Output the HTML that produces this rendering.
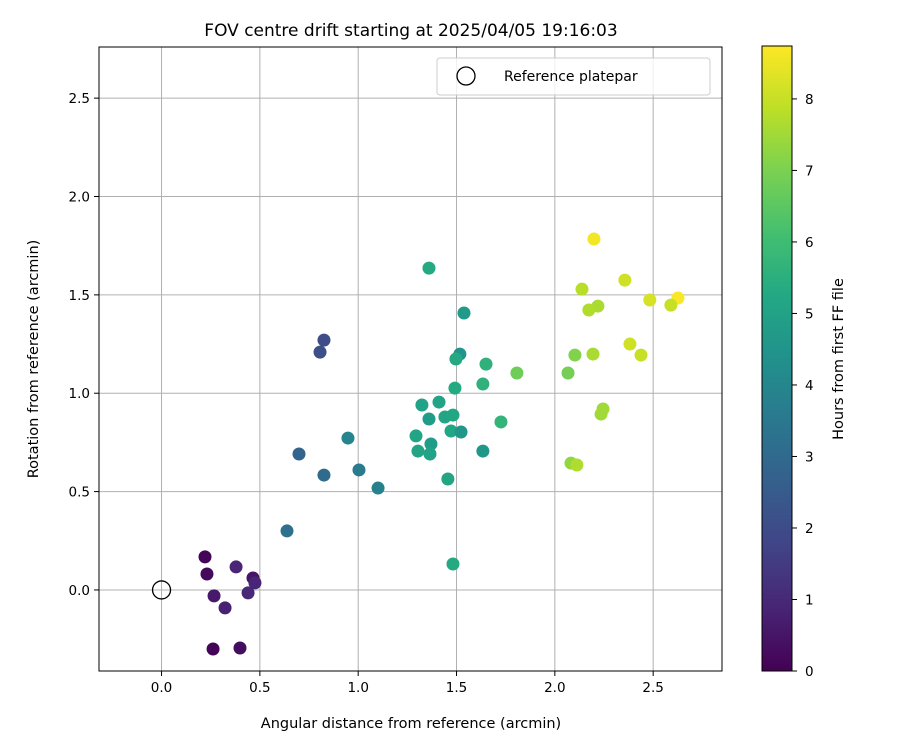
<!DOCTYPE html>
<html><head><meta charset="utf-8"><style>
body{margin:0;background:#fff;font-family:"Liberation Sans","DejaVu Sans",sans-serif}
svg text{font-family:"DejaVu Sans","Liberation Sans",sans-serif;fill:#000}
</style></head><body>
<svg id="chart" width="900" height="750" xmlns="http://www.w3.org/2000/svg">
<rect width="900" height="750" fill="#fff"/>
<text x="411" y="36" font-size="17" text-anchor="middle">FOV centre drift starting at 2025/04/05 19:16:03</text>
<g id="grid"></g>
<g id="points"></g>
<rect x="99" y="47" width="623" height="624" fill="none" stroke="#000" stroke-width="1"/>
<g id="ticks"></g>
<text x="411" y="728" font-size="14.5" text-anchor="middle">Angular distance from reference (arcmin)</text>
<text transform="translate(38,359) rotate(-90)" font-size="14.5" text-anchor="middle">Rotation from reference (arcmin)</text>
<g>
<rect x="437" y="58" width="273" height="37" rx="3" fill="#fff" fill-opacity="0.8" stroke="#ccc"/>
<circle cx="466" cy="76" r="9" fill="none" stroke="#000" stroke-width="1.3"/>
<text x="504" y="81" font-size="14">Reference platepar</text>
</g>
<defs><linearGradient id="vir" x1="0" y1="1" x2="0" y2="0" id2="">
<stop offset="0" stop-color="#440154"/><stop offset="0.1" stop-color="#482475"/><stop offset="0.2" stop-color="#414487"/><stop offset="0.3" stop-color="#355f8d"/><stop offset="0.4" stop-color="#2a788e"/><stop offset="0.5" stop-color="#21918c"/><stop offset="0.6" stop-color="#22a884"/><stop offset="0.7" stop-color="#44bf70"/><stop offset="0.8" stop-color="#7ad151"/><stop offset="0.9" stop-color="#bddf26"/><stop offset="1" stop-color="#fde725"/>
</linearGradient></defs>
<rect x="762" y="46" width="30" height="625" fill="url(#vir)" stroke="#000" stroke-width="1"/>
<g id="cbticks"></g>
<text transform="translate(843,359) rotate(-90)" font-size="14.5" text-anchor="middle">Hours from first FF file</text>
</svg>
<script>
const xVals=[0.221,0.231,0.267,0.262,0.323,0.379,0.399,0.440,0.465,0.475,
0.806,0.826,0.638,0.699,0.826,0.948,1.004,1.101,
1.360,1.538,1.517,1.497,1.650,1.807,1.492,1.634,1.411,1.324,1.360,1.441,1.482,1.726,1.472,1.523,1.294,1.370,1.304,1.365,1.634,1.456,1.482,
2.199,2.356,2.138,2.626,2.483,2.590,2.219,2.173,2.382,2.438,2.102,2.194,2.067,2.245,2.235,2.082,2.112];
const yVals=[0.168,0.081,-0.030,-0.300,-0.091,0.117,-0.295,-0.015,0.061,0.036,
1.209,1.270,0.300,0.691,0.584,0.772,0.610,0.518,
1.636,1.408,1.199,1.174,1.148,1.103,1.026,1.047,0.955,0.940,0.869,0.879,0.889,0.854,0.808,0.803,0.783,0.742,0.706,0.691,0.706,0.564,0.132,
1.784,1.575,1.529,1.484,1.474,1.448,1.443,1.423,1.250,1.194,1.194,1.199,1.103,0.920,0.894,0.645,0.635];
const hours=[0.1,0.2,0.6,0.1,0.8,0.9,0.3,1.0,0.5,0.9,
2.1,2.0,3.2,2.8,3.0,3.9,3.6,3.8,
5.3,4.7,4.5,5.3,5.6,6.8,5.3,5.6,5.0,5.0,4.8,5.1,5.2,5.7,5.2,4.6,5.1,4.8,5.1,5.0,4.6,5.1,5.3,
8.6,8.1,7.8,8.7,8.2,8.0,7.6,7.7,8.1,8.0,7.1,7.6,6.9,7.5,7.5,7.3,7.7];
const xTicks=[0.0,0.5,1.0,1.5,2.0,2.5];
const yTicks=[0.0,0.5,1.0,1.5,2.0,2.5];
const cbTicks=[0,1,2,3,4,5,6,7,8];
const ref=[0,0];
const X0=99,X1=722,Y0=671,Y1=47,xmin=-0.318,xmax=2.85,ymin=-0.412,ymax=2.76,hmax=8.74;
const sx=v=>X0+(v-xmin)/(xmax-xmin)*(X1-X0);
const sy=v=>Y0-(v-ymin)/(ymax-ymin)*(Y0-Y1);
const sh=v=>671-v/hmax*625;
const vir=["#440154","#482475","#414487","#355f8d","#2a788e","#21918c","#22a884","#44bf70","#7ad151","#bddf26","#fde725"];
function hex(c){return [1,3,5].map(i=>parseInt(c.substr(i,2),16));}
function color(h){let t=Math.max(0,Math.min(1,h/hmax))*10;let i=Math.min(9,Math.floor(t)),f=t-i;
const a=hex(vir[i]),b=hex(vir[i+1]);return "rgb("+a.map((v,k)=>Math.round(v+(b[k]-v)*f)).join(",")+")";}
const NS="http://www.w3.org/2000/svg";
function mk(tag,attrs,parent){const e=document.createElementNS(NS,tag);for(const k in attrs)e.setAttribute(k,attrs[k]);parent.appendChild(e);return e;}
const grid=document.getElementById('grid'),ticks=document.getElementById('ticks'),pts=document.getElementById('points'),cb=document.getElementById('cbticks');
xTicks.forEach(v=>{const x=sx(v);
const g=mk('line',{x1:x,x2:x,y1:Y1,y2:Y0,stroke:'#b0b0b0','stroke-width':1},grid);


const t=mk('line',{x1:x,x2:x,y1:Y0,y2:Y0+5,stroke:'#000'},ticks);


const l=mk('text',{x:x,y:Y0+21,'font-size':13.5,'text-anchor':'middle'},ticks);l.textContent=v.toFixed(1);

});
yTicks.forEach(v=>{const y=sy(v);
const g=mk('line',{x1:X0,x2:X1,y1:y,y2:y,stroke:'#b0b0b0','stroke-width':1},grid);


const t=mk('line',{x1:X0-5,x2:X0,y1:y,y2:y,stroke:'#000'},ticks);


const l=mk('text',{x:X0-9,y:y+5,'font-size':13.5,'text-anchor':'end'},ticks);l.textContent=v.toFixed(1);

});
const rc=mk('circle',{cx:sx(ref[0]),cy:sy(ref[1]),r:9,fill:'none',stroke:'#000','stroke-width':1.3},pts);


xVals.forEach((v,i)=>{const c=mk('circle',{cx:sx(v),cy:sy(yVals[i]),r:6.5,fill:color(hours[i])},pts);

});
cbTicks.forEach(v=>{const y=sh(v);
const t=mk('line',{x1:792,x2:797,y1:y,y2:y,stroke:'#000'},cb);


const l=mk('text',{x:805,y:y+5,'font-size':13.5},cb);l.textContent=v;

});
</script>
</body></html>
